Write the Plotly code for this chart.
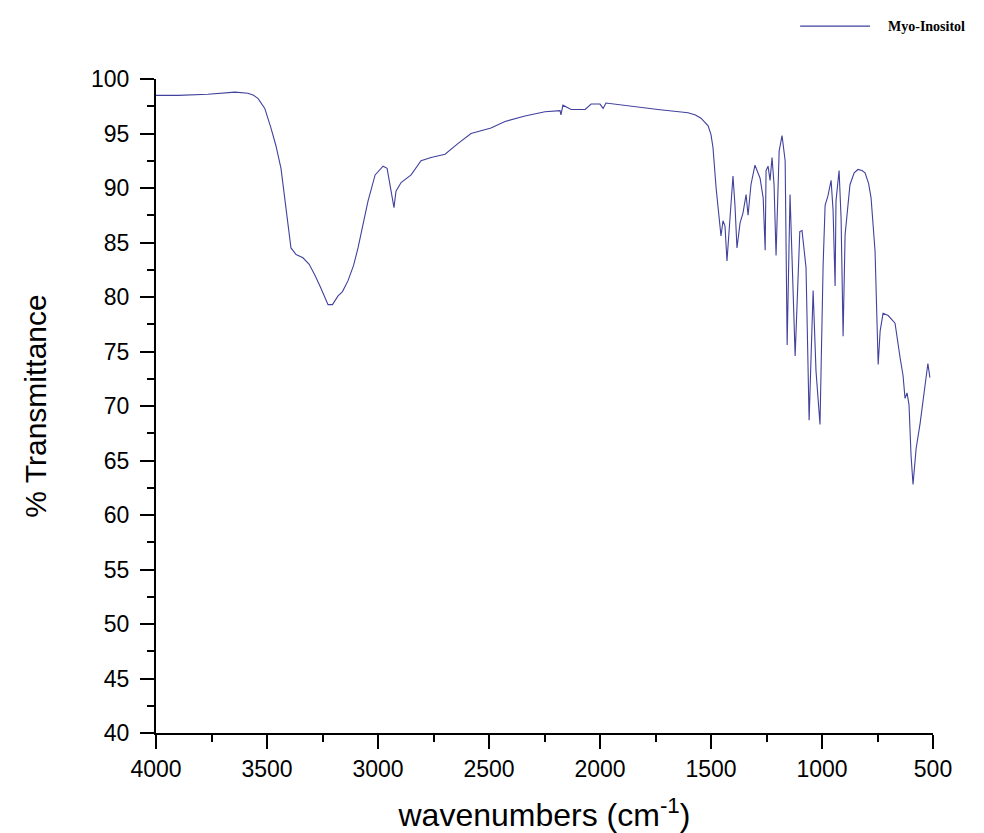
import plotly.graph_objects as go

# Wavenumbers (cm^-1) and % transmittance
wavenumbers = [
    4000, 3900, 3766, 3644, 3586, 3560, 3540, 3510, 3482, 3460, 3437, 3414, 3392, 3369, 3338,
    3310, 3284, 3257, 3240, 3225, 3205, 3180, 3160, 3135, 3110, 3090, 3065, 3045, 3013, 2977,
    2959, 2941, 2928, 2919, 2896, 2851, 2806, 2761, 2698, 2639, 2581, 2491, 2428, 2338, 2248,
    2180, 2176, 2167, 2130, 2067, 2040, 2000, 1986, 1973, 1829, 1739, 1603, 1570, 1545, 1525,
    1513, 1500, 1491, 1477, 1464, 1455, 1446, 1437, 1428, 1414, 1401, 1392, 1383, 1369, 1356,
    1342, 1333, 1320, 1302, 1279, 1265, 1256, 1252, 1243, 1234, 1225, 1216, 1207, 1193, 1180,
    1166, 1157, 1144, 1121, 1100, 1090, 1072, 1058, 1040, 1027, 1009, 995, 986, 973, 959, 950,
    941, 937, 923, 914, 905, 896, 874, 855, 838, 820, 806, 790, 779, 761, 747, 738, 725, 702,
    671, 648, 635, 626, 617, 608, 599, 590, 576, 558, 536, 523, 514,
]
transmittance = [
    98.5, 98.5, 98.6, 98.8, 98.7, 98.5, 98.2, 97.3, 95.5, 93.9, 91.8, 88.2, 84.5, 83.9, 83.6,
    83.0, 82.0, 80.8, 80.0, 79.3, 79.3, 80.1, 80.5, 81.5, 82.9, 84.5, 86.9, 88.8, 91.2, 92.0,
    91.8, 89.5, 88.2, 89.7, 90.5, 91.2, 92.5, 92.8, 93.1, 94.1, 95.0, 95.5, 96.1, 96.6, 97.0,
    97.1, 96.7, 97.6, 97.2, 97.2, 97.7, 97.7, 97.3, 97.8, 97.4, 97.2, 96.9, 96.7, 96.4, 96.0,
    95.7, 94.9, 93.7, 90.0, 87.2, 85.6, 87.0, 86.5, 83.3, 87.2, 91.1, 88.4, 84.5, 86.8, 87.7,
    89.4, 87.5, 90.3, 92.1, 90.9, 89.1, 84.3, 91.6, 92.0, 90.7, 92.8, 90.3, 83.8, 93.4, 94.8,
    92.5, 75.6, 89.4, 74.6, 86.0, 86.1, 82.7, 68.7, 80.6, 73.2, 68.3, 82.9, 88.4, 89.3, 90.7, 87.9,
    81.0, 88.8, 91.6, 87.2, 76.4, 85.7, 90.3, 91.4, 91.7, 91.6, 91.4, 90.4, 89.1, 84.2, 73.8, 76.9,
    78.5, 78.3, 77.6, 74.4, 72.8, 70.7, 71.2, 70.1, 65.5, 62.8, 66.1, 68.4, 72.1, 73.9, 72.6,
]
series_name = "Myo-Inositol"

x_tick_vals = [4000, 3500, 3000, 2500, 2000, 1500, 1000, 500]
y_tick_vals = [40, 45, 50, 55, 60, 65, 70, 75, 80, 85, 90, 95, 100]

line_color = "#41419e"

fig = go.Figure()
fig.add_trace(go.Scatter(
    x=wavenumbers, y=transmittance, mode="lines", name=series_name,
    line=dict(color=line_color, width=1.1), showlegend=False,
))

# Legend drawn as a line sample plus a text label above the plot (top right)
fig.add_shape(type="line", xref="paper", yref="paper",
              x0=0.829, x1=0.919, y0=1.081, y1=1.081,
              line=dict(color=line_color, width=1.2))
fig.add_annotation(xref="paper", yref="paper", x=0.94, y=1.081,
                   xanchor="left", yanchor="middle", showarrow=False,
                   text="<b>" + series_name + "</b>",
                   font=dict(family="Liberation Serif, Times New Roman, serif", size=14, color="#000"))

axis_font = dict(family="Liberation Sans, Arial, sans-serif", size=23, color="#000")

fig.update_layout(
    width=984, height=833,
    paper_bgcolor="white", plot_bgcolor="white",
    margin=dict(l=148, r=59, t=71, b=108),
    showlegend=False,
    xaxis=dict(
        range=[4000, 500], tickvals=x_tick_vals, ticks="outside", ticklen=14, tickwidth=2,
        tickcolor="#000", showline=True, linecolor="#000", linewidth=2, showgrid=False,
        zeroline=False, tickfont=axis_font, automargin=False,
        minor=dict(dtick=250, ticks="outside", ticklen=7, tickwidth=2, tickcolor="#000", showgrid=False),
        title=dict(text="wavenumbers (cm<sup>-1</sup>)",
                   font=dict(family="Liberation Sans, Arial, sans-serif", size=32, color="#000"),
                   standoff=23),
    ),
    yaxis=dict(
        range=[40, 100], tickvals=y_tick_vals, ticks="outside", ticklen=14, tickwidth=2,
        tickcolor="#000", showline=True, linecolor="#000", linewidth=2, showgrid=False,
        zeroline=False, tickfont=axis_font, automargin=False, ticklabelstandoff=6,
        minor=dict(dtick=2.5, ticks="outside", ticklen=7, tickwidth=2, tickcolor="#000", showgrid=False),
        title=dict(text="% Transmittance",
                   font=dict(family="Liberation Sans, Arial, sans-serif", size=30, color="#000"),
                   standoff=36),
    ),
)

fig.write_html("out.html")
